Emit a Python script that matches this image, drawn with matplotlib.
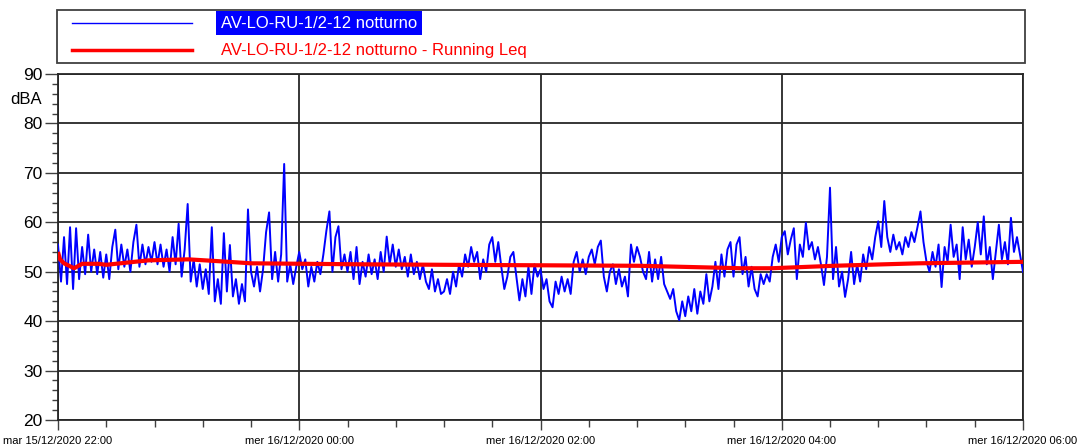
import numpy as np
import matplotlib
matplotlib.use("Agg")
import matplotlib.pyplot as plt
from matplotlib.lines import Line2D
from matplotlib.patches import Rectangle
from matplotlib.ticker import MultipleLocator

plt.rcParams['font.family'] = ['Liberation Sans', 'DejaVu Sans']

# ---------------- data ----------------
sample_step_min = 1.5          # minutes between samples, starting 22:00
level_dba = [
    # 22:00 - 23:35
    55.5, 48.0, 57.0, 47.5, 59.0, 46.5, 58.8, 48.5, 55.0, 49.5, 57.5, 50.0, 54.5, 49.5, 54.0, 48.8,
    53.5, 48.5, 55.0, 58.5, 50.5, 55.5, 51.0, 54.5, 50.0, 56.0, 59.5, 51.0, 55.5, 51.5, 55.0, 52.0,
    56.0, 51.5, 55.5, 51.0, 54.5, 50.0, 57.0, 51.5, 59.7, 49.0, 54.5, 63.7, 48.0, 52.5, 47.0, 51.5,
    46.5, 50.5, 45.5, 59.0, 44.0, 48.5, 43.5, 57.8, 46.0, 55.4, 45.0, 48.5, 43.5, 47.5, 44.0, 62.6,
    # 23:36 - 01:11
    50.0, 47.0, 51.0, 46.0, 50.5, 58.0, 62.0, 48.5, 54.0, 48.0, 53.5, 71.8, 48.0, 51.5, 47.5, 51.0,
    54.0, 50.5, 52.5, 47.0, 51.0, 48.0, 52.0, 49.5, 53.5, 58.3, 62.2, 50.0, 57.0, 59.2, 50.5, 53.5,
    50.0, 54.0, 48.5, 55.0, 47.5, 52.0, 49.0, 53.5, 49.5, 52.5, 48.5, 54.0, 50.0, 57.1, 51.5, 55.5,
    51.0, 54.5, 50.5, 53.0, 49.0, 53.5, 49.5, 52.0, 48.5, 51.5, 48.0, 46.5, 50.5, 46.0, 48.5, 45.5,
    # 01:12 - 02:48
    46.0, 48.5, 45.5, 50.0, 47.0, 51.5, 49.0, 53.5, 51.0, 55.0, 52.0, 54.0, 48.5, 52.5, 50.0, 55.5,
    57.0, 52.0, 56.0, 51.0, 46.5, 49.0, 53.0, 54.0, 49.0, 44.2, 48.5, 45.0, 51.0, 45.5, 51.5, 49.0,
    50.5, 46.5, 48.5, 44.0, 42.8, 48.0, 45.5, 49.0, 46.0, 48.5, 45.5, 52.0, 54.0, 50.0, 52.5, 49.5,
    53.0, 54.5, 51.5, 55.0, 56.3, 49.0, 46.0, 50.0, 51.5, 47.5, 50.5, 47.0, 49.0, 45.0, 55.5, 52.0,
    55.0,
    # 02:49 - 04:25
    53.0, 50.0, 48.5, 54.0, 48.0, 52.5, 48.5, 53.0, 47.5, 46.0, 44.5, 46.5, 42.0, 40.2, 44.0, 41.0,
    45.0, 42.0, 46.5, 41.5, 46.0, 43.5, 49.5, 44.0, 47.0, 52.0, 46.5, 53.5, 49.0, 54.5, 56.0, 49.0,
    55.5, 57.0, 49.5, 53.0, 47.0, 51.0, 46.5, 45.0, 49.5, 47.5, 49.5, 48.0, 53.0, 55.5, 52.0, 57.0,
    58.2, 53.5, 56.5, 58.8, 48.5, 55.5, 53.0, 59.9, 54.5, 56.0, 52.5, 55.0, 51.5, 47.3, 53.0, 67.0,
    48.5,
    # 04:27 - 06:00
    55.0, 47.0, 50.0, 44.9, 48.5, 54.0, 47.5, 51.5, 48.0, 53.5, 50.5, 55.0, 52.5, 57.0, 60.2, 55.0,
    64.3, 57.0, 54.0, 57.5, 54.5, 56.0, 53.5, 57.0, 55.0, 58.0, 56.0, 59.0, 62.2, 56.0, 52.0, 50.0,
    54.0, 51.0, 55.5, 46.9, 55.0, 52.0, 59.5, 53.0, 55.5, 48.5, 59.0, 52.5, 56.5, 51.0, 55.0, 60.0,
    53.5, 61.2, 51.5, 55.0, 48.5, 54.0, 59.5, 52.5, 56.0, 51.5, 60.9, 54.0, 57.0, 53.5, 50.0,
]

leq_minutes = [0, 1, 3, 8, 12, 20, 24, 38, 45, 65, 81, 96, 150, 192, 240, 289, 340, 355, 386, 428, 480]
leq_dba = [54.0, 52.5, 51.7, 50.7, 51.6, 51.6, 51.4, 52.0, 52.3, 52.5, 52.1, 51.7, 51.5, 51.4,
           51.3, 51.2, 50.7, 50.7, 51.2, 51.7, 52.0]

tick_minutes = [0, 120, 240, 360, 480]
tick_labels = ["mar 15/12/2020 22:00", "mer 16/12/2020 00:00", "mer 16/12/2020 02:00",
               "mer 16/12/2020 04:00", "mer 16/12/2020 06:00"]
series_names = ["AV-LO-RU-1/2-12 notturno", "AV-LO-RU-1/2-12 notturno - Running Leq"]

# ---------------- figure ----------------
W, H = 1087, 447
fig = plt.figure(figsize=(W / 100, H / 100), dpi=100)
ax = fig.add_axes([58 / W, 1 - 420 / H, (1023 - 58) / W, (420 - 74) / H])

t = np.arange(len(level_dba)) * sample_step_min
ax.plot(t, level_dba, color='#0000ff', lw=1.4, zorder=3)
ax.plot(leq_minutes, leq_dba, color='#ff0000', lw=3.0, zorder=4, solid_capstyle='butt')

ax.set_xlim(0, 480)
ax.set_ylim(20, 90)
ax.set_xticks(tick_minutes)
ax.set_xticklabels(tick_labels, fontsize=8)
ax.xaxis.set_minor_locator(MultipleLocator(24))
ax.set_yticks(range(20, 91, 10))
ax.set_yticklabels([str(v) for v in range(20, 91, 10)], fontsize=12.5)
ax.yaxis.set_minor_locator(MultipleLocator(2))

ax.tick_params(axis='y', which='major', length=9.5, width=1.0, pad=1.5, color='#404040')
ax.tick_params(axis='y', which='minor', length=4.5, width=1.0, color='#404040')
ax.tick_params(axis='x', which='major', length=7.5, width=1.0, pad=4, color='#404040')
ax.tick_params(axis='x', which='minor', length=5, width=1.0, color='#404040')
for lab in ax.get_xticklabels():
    lab.set_x(lab.get_position()[0])

ax.grid(True, which='major', color='#262626', lw=1.3, zorder=1)
for s in ax.spines.values():
    s.set_color('#262626')
    s.set_linewidth(1.3)

fig.text(26 / W, 1 - 100 / H, "dBA", fontsize=12, ha='center', va='center')

# legend box
fig.patches.append(Rectangle((57 / W, 1 - 63 / H), (1025 - 57) / W, 53 / H,
                             transform=fig.transFigure, facecolor='white',
                             edgecolor='#404040', lw=1.3))
fig.lines.append(Line2D([72 / W, 192 / W], [1 - 23 / H, 1 - 23 / H],
                        transform=fig.transFigure, color='#0000ff', lw=1.0))
fig.lines.append(Line2D([72 / W, 192 / W], [1 - 50 / H, 1 - 50 / H],
                        transform=fig.transFigure, color='#ff0000', lw=2.5))
fig.text(221 / W, 1 - 23 / H, series_names[0], fontsize=12, color='white', ha='left', va='center',
         bbox=dict(facecolor='#0000ff', edgecolor='none', pad=3.5))
fig.text(221 / W, 1 - 50 / H, series_names[1], fontsize=12, color='#ff0000', ha='left', va='center')

fig.savefig("out.png", dpi=100)
